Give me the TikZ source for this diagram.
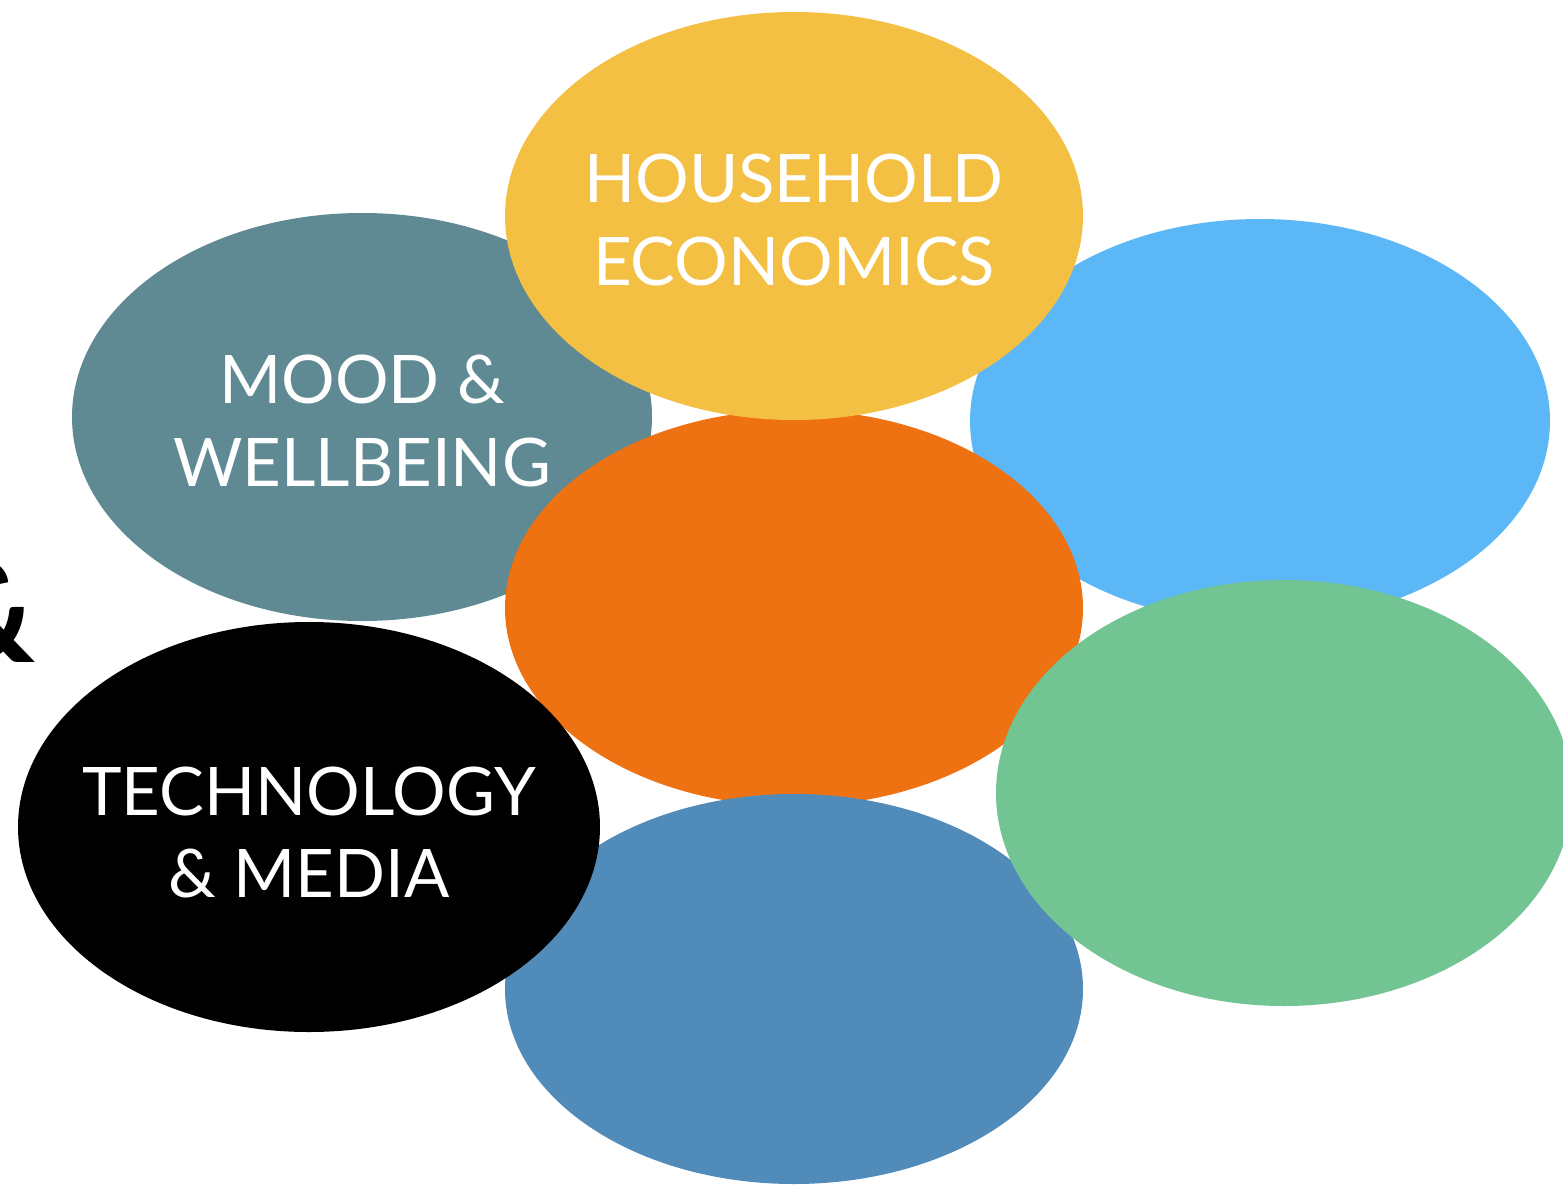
\documentclass[tikz,border=0pt]{standalone}
\usepackage{fontspec}
\setmainfont{Lato}
\usetikzlibrary{shapes.geometric}
\definecolor{cyellow}{HTML}{F3C043}
\definecolor{cteal}{HTML}{5F8A93}
\definecolor{clblue}{HTML}{5BB7F5}
\definecolor{corange}{HTML}{EE7112}
\definecolor{cgreen}{HTML}{72C493}
\definecolor{cblue}{HTML}{508BBA}
\begin{document}
\begin{tikzpicture}[x=1pt,y=-1pt,
  blob/.style={ellipse,inner sep=0pt,draw=none},
  lbl/.style={text=white,font=\fontsize{67}{82}\selectfont,align=center,anchor=base}]
\clip (0,0) rectangle (1563,1185);
\fill[white] (0,0) rectangle (1563,1185);
% partial bold ampersand at the left edge
\node[font=\fontsize{140}{140}\bfseries\selectfont,anchor=base east,inner sep=0pt] (amp) at (36,662) {\&};
\node[blob,fill=cteal,minimum width=580pt,minimum height=408pt] (mood) at (362,417) {};
\node[blob,fill=clblue,minimum width=580pt,minimum height=404pt] (lblue) at (1260,421) {};
\node[blob,fill=corange,minimum width=578pt,minimum height=396pt] (orange) at (794,608) {};
\node[blob,fill=cyellow,minimum width=578pt,minimum height=408pt] (house) at (794,216) {};
\node[blob,fill=cblue,minimum width=578pt,minimum height=390pt] (blue) at (794,989) {};
\node[blob,fill=cgreen,minimum width=576pt,minimum height=426pt] (green) at (1284,793) {};
\node[blob,fill=black,minimum width=582pt,minimum height=410pt] (tech) at (309,827) {};
% labels
\node[lbl] (t1) at (794,203) {HOUSEHOLD};
\node[lbl] (t2) at (794,285) {ECONOMICS};
\node[lbl] (t3) at (362,403) {MOOD \&};
\node[lbl] (t4) at (362,486) {WELLBEING};
\node[lbl] (t5) at (309,815) {TECHNOLOGY};
\node[lbl] (t6) at (309,897) {\& MEDIA};
\end{tikzpicture}
\end{document}
